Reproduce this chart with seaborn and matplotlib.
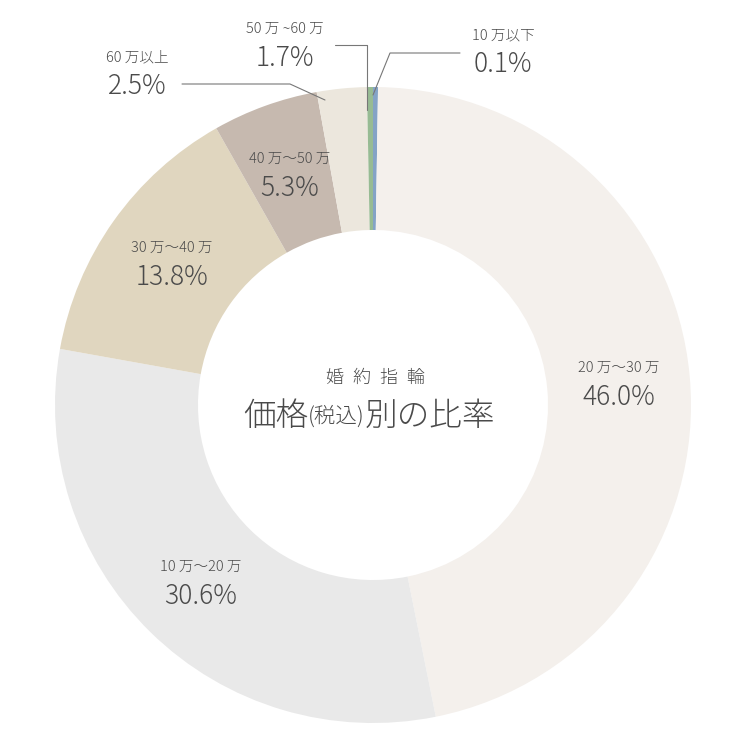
import numpy as np
import matplotlib
matplotlib.use("Agg")
import matplotlib.pyplot as plt
import seaborn as sns

sns.set_theme(style="white")
plt.rcParams["font.family"] = ["Noto Sans CJK JP", "DejaVu Sans"]

# --- data (clockwise from 12 o'clock) ---
categories = ["10 万以下", "20 万〜30 万", "10 万〜20 万", "30 万〜40 万",
              "40 万〜50 万", "60 万以上", "50 万 ~60 万"]
pct_labels = ["0.1%", "46.0%", "30.6%", "13.8%", "5.3%", "2.5%", "1.7%"]
# wedge sizes as drawn in the reference (the two thin top wedges are drawn
# at roughly the same width, not in proportion to their labels)
shares = [0.25, 46.0, 30.6, 13.8, 5.3, 2.5, 0.3]
colors = ["#84a3c6", "#f4f0ec", "#e9e9e9", "#e0d6bf", "#c6b9af", "#ece7dd", "#97bb93"]

TXT = "#4a4a4a"

W = H = 750
R_PX = 318.0
CX, CY = 373.0, 405.0


def px(x, y):
    # pixel (from top-left) -> data coords, radius 1 == outer ring
    return (x - CX) / R_PX, (CY - y) / R_PX


fig = plt.figure(figsize=(7.5, 7.5), dpi=100)
ax = fig.add_axes([0, 0, 1, 1])

inner = 175.0 / R_PX
wedges, _ = ax.pie(shares, colors=colors, startangle=90, counterclock=False,
                   radius=1.0, wedgeprops=dict(width=1.0 - inner, linewidth=0))

# pie() resets the limits, so set them afterwards
ax.set_xlim(-CX / R_PX, (W - CX) / R_PX)
ax.set_ylim(-(H - CY) / R_PX, CY / R_PX)
ax.set_aspect("equal")
ax.axis("off")

# labels inside the ring for the big wedges
r_mid = (1.0 + inner) / 2
off = 14.5 / R_PX
for i in [1, 2, 3, 4]:
    w = wedges[i]
    ang = np.deg2rad((w.theta1 + w.theta2) / 2)
    x, y = r_mid * np.cos(ang), r_mid * np.sin(ang)
    ax.text(x, y + off, categories[i], ha="center", va="center",
            fontsize=10.5, color=TXT, fontweight="light")
    ax.text(x, y - off, pct_labels[i], ha="center", va="center",
            fontsize=19, color=TXT, fontweight="light")

# outside labels with leader lines (pixel layout)
outside = {
    5: dict(text=(137, 72), line=[(182, 84), (290, 84), (325, 100)]),
    6: dict(text=(285, 43), line=[(335, 45), (367, 45), (367, 110)]),
    0: dict(text=(503, 50), line=[(460, 53), (390, 53), (373, 95)]),
}
for i, o in outside.items():
    tx, ty = px(*o["text"])
    ax.text(tx, ty + off, categories[i], ha="center", va="center",
            fontsize=10.5, color=TXT, fontweight="light")
    ax.text(tx, ty - off, pct_labels[i], ha="center", va="center",
            fontsize=19, color=TXT, fontweight="light")
    pts = np.array([px(*p) for p in o["line"]])
    ax.plot(pts[:, 0], pts[:, 1], color="#777777", lw=0.8)

# centre title
ax.text(px(375, 0)[0], px(0, 378)[1], "婚\u2002約\u2002指\u2002輪", ha="center",
        va="center", fontsize=13, color=TXT, fontweight="light")
y_t = px(0, 417)[1]
t1 = ax.text(px(243, 0)[0], y_t, "価格", ha="left", va="center",
             fontsize=23.5, color=TXT, fontweight="light")
t2 = ax.annotate("(税込)", xy=(1, 0.5), xycoords=t1, ha="left", va="center",
                 fontsize=15.5, color=TXT, fontweight="light")
t3 = ax.annotate("別の比率", xy=(1, 0.5), xycoords=t2, ha="left", va="center",
                 fontsize=23.5, color=TXT, fontweight="light")

fig.savefig("out.png", dpi=100, facecolor="white")
